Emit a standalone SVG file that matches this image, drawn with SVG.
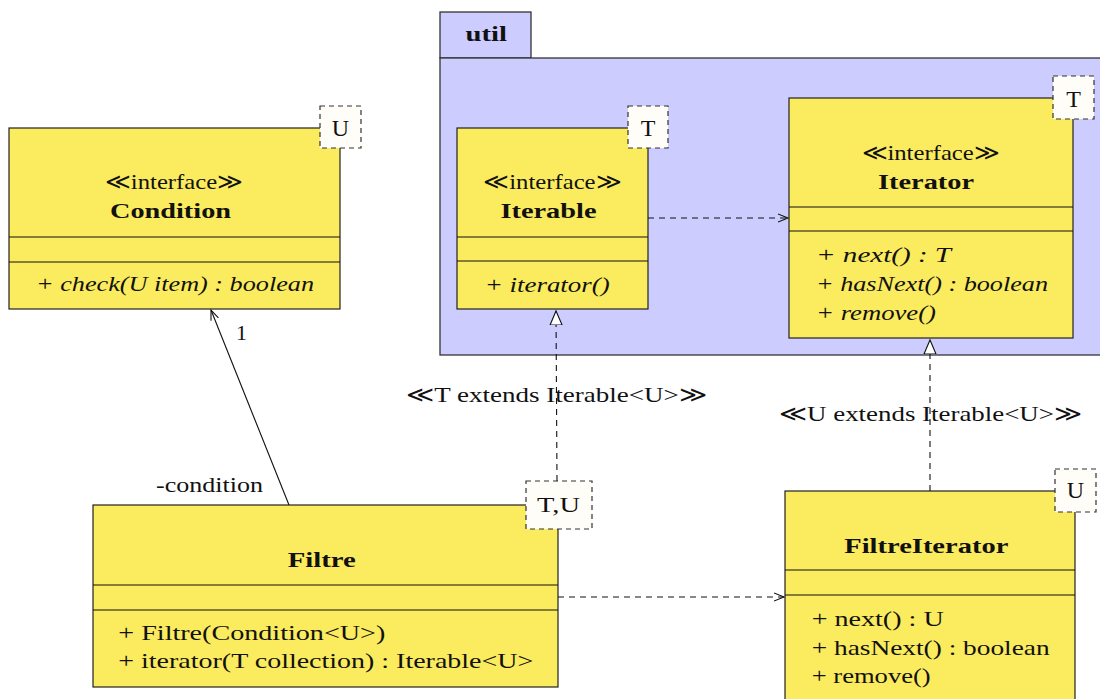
<svg xmlns="http://www.w3.org/2000/svg" width="1100" height="699" viewBox="0 0 1100 699">
<style>
text{font-family:"Liberation Serif","DejaVu Serif",serif;font-size:22px;fill:#111}
.b{font-weight:bold}
.i{font-style:italic}
.m{text-anchor:middle}
.tl{font-size:24px}
.cls{fill:#fbeb5e;stroke:#222;stroke-width:1.2}
.sep{stroke:#111;stroke-width:1.2}
.tp{fill:#fffdf8;stroke:#333;stroke-width:1.2;stroke-dasharray:5,4}
.pkg{fill:#ccccff;stroke:#333;stroke-width:1.3}
.dash{fill:none;stroke:#111;stroke-width:1.1;stroke-dasharray:6,5}
.solid{fill:none;stroke:#111;stroke-width:1.1}
</style>
<defs>
<marker id="open" markerWidth="12" markerHeight="12" refX="10" refY="5" orient="auto" markerUnits="userSpaceOnUse">
<path d="M0,1 L10,5 L0,9" fill="none" stroke="#111" stroke-width="1.1"/>
</marker>
<marker id="tri" markerWidth="16" markerHeight="18" refX="14" refY="7" orient="auto" markerUnits="userSpaceOnUse">
<path d="M0,1 L14,7 L0,13 Z" fill="#fff" stroke="#111" stroke-width="1.1"/>
</marker>
</defs>

<g id="util">
<rect class="pkg" x="440" y="12" width="91" height="46"/>
<rect class="pkg" x="440" y="58" width="670" height="297"/>
<text class="b" x="465.5" y="40.7" textLength="41.5" lengthAdjust="spacingAndGlyphs">util</text>
</g>

<g id="Condition">
<rect class="cls" x="9" y="128" width="331" height="181"/>
<line class="sep" x1="9" y1="237" x2="340" y2="237"/>
<line class="sep" x1="9" y1="262" x2="340" y2="262"/>
<text x="105" y="189" textLength="138" lengthAdjust="spacingAndGlyphs">≪interface≫</text>
<text class="b" x="110" y="218" textLength="121" lengthAdjust="spacingAndGlyphs">Condition</text>
<text class="i" x="36" y="290.5" textLength="278" lengthAdjust="spacingAndGlyphs">+ check(U item) : boolean</text>
<rect class="tp" x="320" y="106" width="41" height="42"/>
<text class="m tl" x="340.5" y="136">U</text>
</g>

<g id="Iterable">
<rect class="cls" x="457" y="128" width="191" height="181"/>
<line class="sep" x1="457" y1="237" x2="648" y2="237"/>
<line class="sep" x1="457" y1="261" x2="648" y2="261"/>
<text x="483.4" y="189.3" textLength="138" lengthAdjust="spacingAndGlyphs">≪interface≫</text>
<text class="b" x="500.5" y="218.3" textLength="96" lengthAdjust="spacingAndGlyphs">Iterable</text>
<text class="i" x="484.7" y="291.7" textLength="125" lengthAdjust="spacingAndGlyphs">+ iterator()</text>
<rect class="tp" x="628" y="106" width="40" height="42"/>
<text class="m tl" x="648" y="136">T</text>
</g>

<g id="Iterator">
<rect class="cls" x="789" y="98" width="284" height="240"/>
<line class="sep" x1="789" y1="207" x2="1073" y2="207"/>
<line class="sep" x1="789" y1="231" x2="1073" y2="231"/>
<text x="861.6" y="160" textLength="138" lengthAdjust="spacingAndGlyphs">≪interface≫</text>
<text class="b" x="878" y="189.3" textLength="96" lengthAdjust="spacingAndGlyphs">Iterator</text>
<text class="i" x="816" y="261.7" textLength="135" lengthAdjust="spacingAndGlyphs">+ next() : T</text>
<text class="i" x="816" y="290.7" textLength="232" lengthAdjust="spacingAndGlyphs">+ hasNext() : boolean</text>
<text class="i" x="816" y="320" textLength="120" lengthAdjust="spacingAndGlyphs">+ remove()</text>
<rect class="tp" x="1053" y="76" width="41" height="43"/>
<text class="m tl" x="1073.5" y="106.5">T</text>
</g>

<g id="Filtre">
<rect class="cls" x="93" y="505" width="465" height="182"/>
<line class="sep" x1="93" y1="585" x2="558" y2="585"/>
<line class="sep" x1="93" y1="610" x2="558" y2="610"/>
<text class="b" x="287.7" y="566.7" textLength="68" lengthAdjust="spacingAndGlyphs">Filtre</text>
<text x="118.3" y="640" textLength="267" lengthAdjust="spacingAndGlyphs">+ Filtre(Condition&lt;U&gt;)</text>
<text x="118.3" y="668.3" textLength="415" lengthAdjust="spacingAndGlyphs">+ iterator(T collection) : Iterable&lt;U&gt;</text>
<rect class="tp" x="526" y="481" width="66" height="48"/>
<text x="537" y="511.7" textLength="43" lengthAdjust="spacingAndGlyphs">T,U</text>
</g>

<g id="FiltreIterator">
<rect class="cls" x="785" y="491" width="290" height="215"/>
<line class="sep" x1="785" y1="570" x2="1075" y2="570"/>
<line class="sep" x1="785" y1="595" x2="1075" y2="595"/>
<text class="b" x="844.3" y="552.7" textLength="164" lengthAdjust="spacingAndGlyphs">FiltreIterator</text>
<text x="811.7" y="625.7" textLength="132" lengthAdjust="spacingAndGlyphs">+ next() : U</text>
<text x="811.7" y="655" textLength="238" lengthAdjust="spacingAndGlyphs">+ hasNext() : boolean</text>
<text x="811.7" y="683.3" textLength="119" lengthAdjust="spacingAndGlyphs">+ remove()</text>
<rect class="tp" x="1055" y="469" width="41" height="43"/>
<text class="m tl" x="1075.5" y="498">U</text>
</g>

<g id="connectors">
<line class="dash" x1="648" y1="218" x2="788" y2="218" marker-end="url(#open)"/>
<line class="dash" x1="558" y1="597" x2="784" y2="597" marker-end="url(#open)"/>
<line class="dash" x1="557" y1="481" x2="556" y2="311" marker-end="url(#tri)"/>
<line class="dash" x1="930" y1="491" x2="930" y2="340" marker-end="url(#tri)"/>
<line class="solid" x1="289" y1="505" x2="211" y2="310" marker-end="url(#open)"/>
<text x="236" y="340">1</text>
<text x="156" y="491.7" textLength="107" lengthAdjust="spacingAndGlyphs">-condition</text>
<text x="406" y="401.7" textLength="301" lengthAdjust="spacingAndGlyphs">≪T extends Iterable&lt;U&gt;≫</text>
<text x="779" y="421" textLength="303" lengthAdjust="spacingAndGlyphs">≪U extends Iterable&lt;U&gt;≫</text>
</g>
</svg>
